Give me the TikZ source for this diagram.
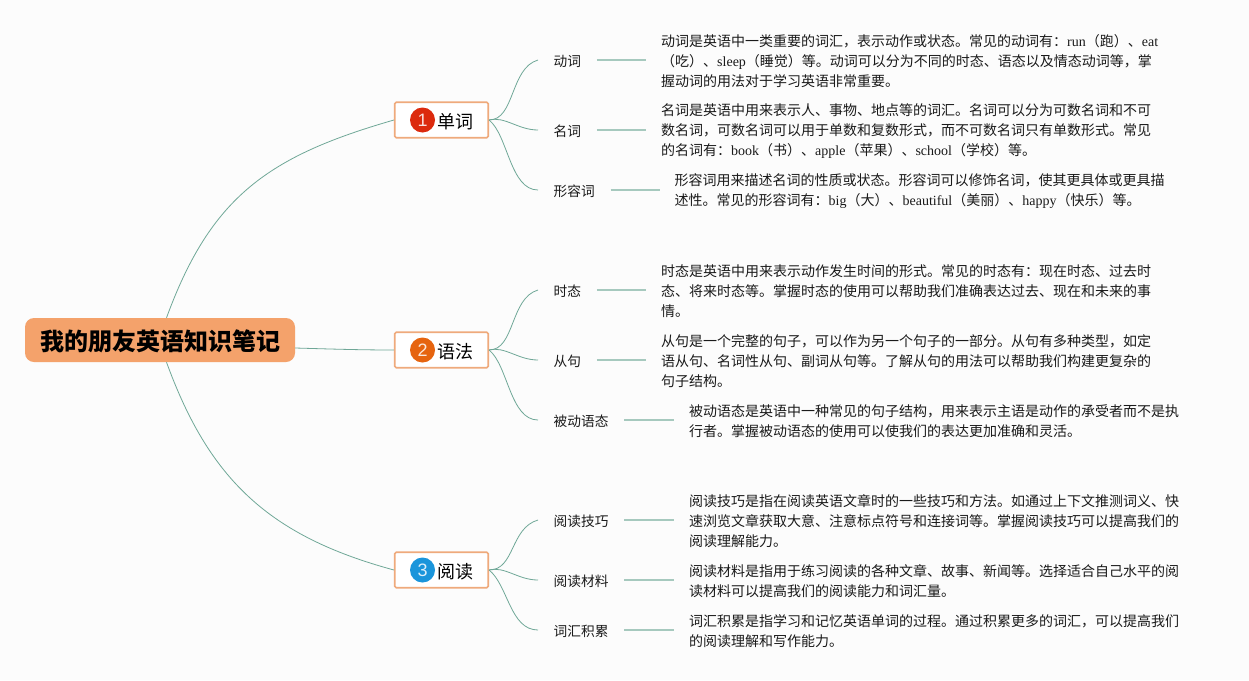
\documentclass[tikz,border=0pt]{standalone}
\usepackage{fontspec}
\setmainfont{Noto Sans CJK SC}
\newfontfamily\enfont{Liberation Serif}
\newfontfamily\numfont{Liberation Sans}
\newcommand{\en}[1]{{\enfont #1}}
\newcommand{\lowtext}[2]{\raisebox{0pt}[\dimexpr\height+#1\relax][\depth]{#2}}
\definecolor{bgc}{HTML}{FCFCFC}
\definecolor{rootc}{HTML}{F4A26B}
\definecolor{boxc}{HTML}{EFAA7C}
\definecolor{curvec}{HTML}{6FA797}
\definecolor{stubc}{HTML}{A6C9BE}
\definecolor{redc}{HTML}{DC2A0D}
\definecolor{orangec}{HTML}{E6640F}
\definecolor{bluec}{HTML}{1A95DB}
\definecolor{txt}{HTML}{1A1A1A}
\tikzset{
  rootbox/.style={draw=none,fill=rootc,rounded corners=9pt,minimum width=270pt,minimum height=44pt,inner sep=0pt,font=\fontsize{24}{28}\selectfont\bfseries,text=black},
  branchbox/.style={draw=boxc,line width=1.6pt,fill=white,rounded corners=1.5pt,minimum width=93.5pt,minimum height=35.5pt,inner sep=0pt},
  branchlabel/.style={inner sep=0pt,font=\fontsize{18}{20}\selectfont,text=black,anchor=west},
  iconc/.style={circle,fill=#1,minimum size=25pt,inner sep=0pt,text=white!85!#1,font=\fontsize{18}{20}\numfont},
  leaf/.style={inner xsep=15.5pt,inner ysep=0pt,font=\fontsize{13.7}{16}\selectfont,text=txt,anchor=west},
  para/.style={inner xsep=15pt,inner ysep=0pt,anchor=west,align=left,font=\fontsize{14}{20}\selectfont,text=txt},
  curve/.style={draw=curvec,line width=0.8pt},
  stub/.style={draw=stubc,line width=1.3pt}
}
\begin{document}
\begin{tikzpicture}[x=1pt,y=-1pt]
\useasboundingbox (0,0) rectangle (1249,680);
\fill[bgc] (0,0) rectangle (1249,680);

\node[rootbox] (root) at (160,340) {\lowtext{3pt}{我的朋友英语知识笔记}};

\node[branchbox] (b1) at (441.5,120) {};
\node[branchbox] (b2) at (441.5,350) {};
\node[branchbox] (b3) at (441.5,570) {};
\node[iconc=redc] (i1) at (422.5,120) {1};
\node[iconc=orangec] (i2) at (422.5,350) {2};
\node[iconc=bluec] (i3) at (422.5,570) {3};
\node[branchlabel] (l1) at (437,122) {单词};
\node[branchlabel] (l2) at (437,352) {语法};
\node[branchlabel] (l3) at (437,572) {阅读};

\draw[curve] (root.north)++(6.5,0) coordinate (rt) .. controls (211,196) and (269,156) .. (b1.west);
\draw[curve] (root.south)++(6.5,0) coordinate (rb) .. controls (209,479) and (268.5,536) .. (b3.west);
\draw[curve] (root.east)++(0,8) coordinate (rm) .. controls (330,349) and (360,350) .. (b2.west);

% leaves
\node[leaf] (a1) at (538,60) {\lowtext{2pt}{动词}};
\node[leaf] (a2) at (538,130) {\lowtext{2pt}{名词}};
\node[leaf] (a3) at (538,190) {\lowtext{2pt}{形容词}};
\node[leaf] (c1) at (538,290) {\lowtext{2pt}{时态}};
\node[leaf] (c2) at (538,360) {\lowtext{2pt}{从句}};
\node[leaf] (c3) at (538,420) {\lowtext{2pt}{被动语态}};
\node[leaf] (d1) at (538,520) {\lowtext{2pt}{阅读技巧}};
\node[leaf] (d2) at (538,580) {\lowtext{2pt}{阅读材料}};
\node[leaf] (d3) at (538,630) {\lowtext{2pt}{词汇积累}};

\node[para] (ta1) at (646,61) {动词是英语中一类重要的词汇，表示动作或状态。常见的动词有：\en{run}（跑）、\en{eat}\\（吃）、\en{sleep}（睡觉）等。动词可以分为不同的时态、语态以及情态动词等，掌\\握动词的用法对于学习英语非常重要。};
\node[para] (ta2) at (646,131) {名词是英语中用来表示人、事物、地点等的词汇。名词可以分为可数名词和不可\\数名词，可数名词可以用于单数和复数形式，而不可数名词只有单数形式。常见\\的名词有：\en{book}（书）、\en{apple}（苹果）、\en{school}（学校）等。};
\node[para] (ta3) at (659.5,191) {形容词用来描述名词的性质或状态。形容词可以修饰名词，使其更具体或更具描\\述性。常见的形容词有：\en{big}（大）、\en{beautiful}（美丽）、\en{happy}（快乐）等。};
\node[para] (tc1) at (646,291) {时态是英语中用来表示动作发生时间的形式。常见的时态有：现在时态、过去时\\态、将来时态等。掌握时态的使用可以帮助我们准确表达过去、现在和未来的事\\情。};
\node[para] (tc2) at (646,361) {从句是一个完整的句子，可以作为另一个句子的一部分。从句有多种类型，如定\\语从句、名词性从句、副词从句等。了解从句的用法可以帮助我们构建更复杂的\\句子结构。};
\node[para] (tc3) at (674,421) {被动语态是英语中一种常见的句子结构，用来表示主语是动作的承受者而不是执\\行者。掌握被动语态的使用可以使我们的表达更加准确和灵活。};
\node[para] (td1) at (674,521) {阅读技巧是指在阅读英语文章时的一些技巧和方法。如通过上下文推测词义、快\\速浏览文章获取大意、注意标点符号和连接词等。掌握阅读技巧可以提高我们的\\阅读理解能力。};
\node[para] (td2) at (674,581) {阅读材料是指用于练习阅读的各种文章、故事、新闻等。选择适合自己水平的阅\\读材料可以提高我们的阅读能力和词汇量。};
\node[para] (td3) at (674,631) {词汇积累是指学习和记忆英语单词的过程。通过积累更多的词汇，可以提高我们\\的阅读理解和写作能力。};

\foreach \a/\t in {a1/ta1,a2/ta2,a3/ta3,c1/tc1,c2/tc2,c3/tc3,d1/td1,d2/td2,d3/td3}
  \draw[stub] (\a.east) -- (\a.east -| \t.west);

\draw[curve] (b1.east) .. controls (515,120) and (510,68) .. (a1.west);
\draw[curve] (b1.east) .. controls (505,116) and (518,130) .. (a2.west);
\draw[curve] (b1.east) .. controls (508,135) and (510,190) .. (a3.west);
\draw[curve] (b2.east) .. controls (515,350) and (510,298) .. (c1.west);
\draw[curve] (b2.east) .. controls (505,346) and (518,360) .. (c2.west);
\draw[curve] (b2.east) .. controls (508,365) and (510,420) .. (c3.west);
\draw[curve] (b3.east) .. controls (515,570) and (510,528) .. (d1.west);
\draw[curve] (b3.east) .. controls (505,566) and (518,580) .. (d2.west);
\draw[curve] (b3.east) .. controls (508,585) and (510,630) .. (d3.west);
\end{tikzpicture}
\end{document}
